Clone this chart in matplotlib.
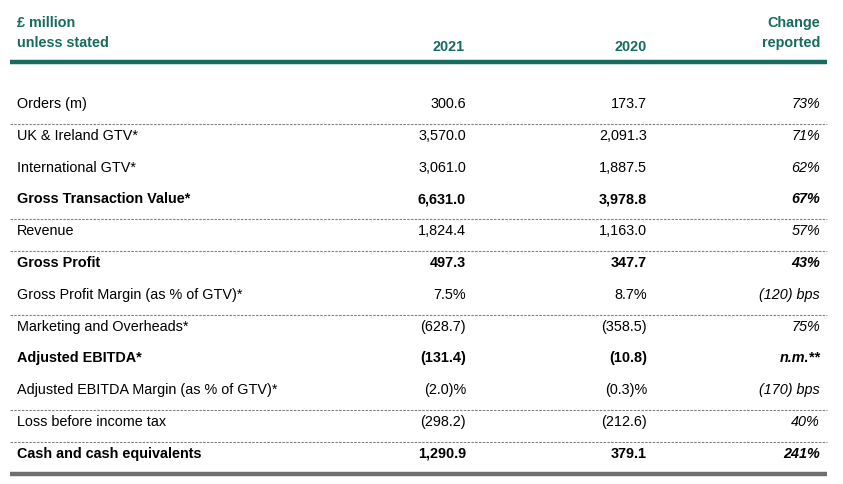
"""Key financial summary table, redrawn with matplotlib."""
import matplotlib.pyplot as plt

# Table content
row_labels = [
    'Orders (m)', 'UK & Ireland GTV*', 'International GTV*',
    'Gross Transaction Value*', 'Revenue', 'Gross Profit',
    'Gross Profit Margin (as % of GTV)*', 'Marketing and Overheads*',
    'Adjusted EBITDA*', 'Adjusted EBITDA Margin (as % of GTV)*',
    'Loss before income tax', 'Cash and cash equivalents',
]
values_2021 = [
    '300.6', '3,570.0', '3,061.0', '6,631.0', '1,824.4', '497.3',
    '7.5%', '(628.7)', '(131.4)', '(2.0)%', '(298.2)', '1,290.9',
]
values_2020 = [
    '173.7', '2,091.3', '1,887.5', '3,978.8', '1,163.0', '347.7',
    '8.7%', '(358.5)', '(10.8)', '(0.3)%', '(212.6)', '379.1',
]
change_reported = [
    '73%', '71%', '62%', '67%', '57%', '43%',
    '(120) bps', '75%', 'n.m.**', '(170) bps', '40%', '241%',
]
column_headers = ['2021', '2020']
bold_rows = ['Gross Transaction Value*', 'Gross Profit', 'Adjusted EBITDA*',
             'Cash and cash equivalents']
rule_above = ['UK & Ireland GTV*', 'Revenue', 'Gross Profit',
              'Marketing and Overheads*', 'Loss before income tax',
              'Cash and cash equivalents']

teal = '#176b5f'
plt.rcParams['font.family'] = ['Liberation Sans', 'DejaVu Sans']

fig = plt.figure(figsize=(8.43, 4.84), dpi=100)
ax = fig.add_axes([0, 0, 1, 1])
ax.set_xlim(0, 843)
ax.set_ylim(484, 0)
ax.axis('off')

fs = 10.4
# header
ax.text(17, 23, '£ million', color=teal, fontsize=fs, fontweight='bold',
        va='center', ha='left')
ax.text(17, 43, 'unless stated', color=teal, fontsize=fs, fontweight='bold',
        va='center', ha='left')
for x, h in zip([465, 647], column_headers):
    ax.text(x, 47, h, color=teal, fontsize=fs, fontweight='bold',
            va='center', ha='right')
ax.text(820, 23, 'Change', color=teal, fontsize=fs, fontweight='bold',
        va='center', ha='right')
ax.text(820, 43, 'reported', color=teal, fontsize=fs, fontweight='bold',
        va='center', ha='right')
ax.plot([10, 827], [62, 62], color=teal, lw=3.2, solid_capstyle='butt')

y0, dy = 104, 31.8
for i, label in enumerate(row_labels):
    y = y0 + i * dy
    w = 'bold' if label in bold_rows else 'normal'
    ax.text(17, y, label, fontsize=fs, fontweight=w, va='center', ha='left',
            color='black')
    ax.text(466, y, values_2021[i], fontsize=fs, fontweight=w, va='center',
            ha='right', color='black')
    ax.text(647, y, values_2020[i], fontsize=fs, fontweight=w, va='center',
            ha='right', color='black')
    ax.text(820, y, change_reported[i], fontsize=fs, fontweight=w,
            style='italic', va='center', ha='right', color='black')
    if label in rule_above:
        ax.plot([10, 827], [y - 12, y - 12], color='#808080', lw=0.8,
                ls=(0, (2.2, 1.2)))

ax.plot([10, 827], [474, 474], color='#6e6e6e', lw=3.2,
        solid_capstyle='butt')

fig.savefig('out.png', dpi=100)
